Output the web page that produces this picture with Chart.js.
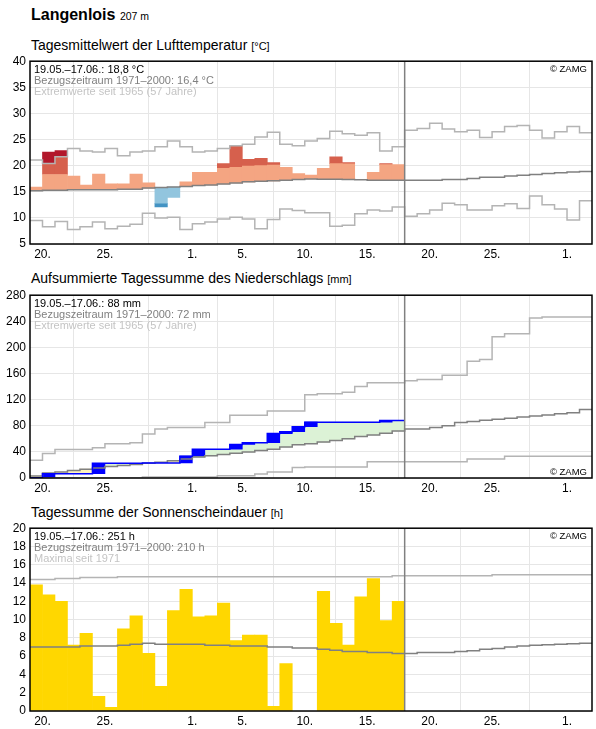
<!DOCTYPE html>
<html>
<head>
<meta charset="utf-8">
<script src="https://cdn.jsdelivr.net/npm/chart.js@4/dist/chart.umd.min.js"></script>
<style>
  body { margin: 0; background: #fff; font-family: "Liberation Sans", Arial, sans-serif; }
  #page { position: relative; width: 596px; height: 729px; overflow: hidden; }
  .hdr { position: absolute; left: 31px; top: 7px; font-size: 16px; line-height: 16px; font-weight: bold; }
  .hdr small { font-size: 10.5px; font-weight: normal; }
  .ttl { position: absolute; left: 31px; font-size: 14px; line-height: 14px; white-space: nowrap; }
  .ttl small { font-size: 11px; }
  canvas { position: absolute; left: 0; }
</style>
</head>
<body>
<div id="page">
  <div class="hdr">Langenlois <small>207 m</small></div>
  <div class="ttl" style="top:38px">Tagesmittelwert der Lufttemperatur <small>[°C]</small></div>
  <canvas id="temp" width="596" height="212" style="top:50px"></canvas>
  <div class="ttl" style="top:271px">Aufsummierte Tagessumme des Niederschlags <small>[mm]</small></div>
  <canvas id="rain" width="596" height="212" style="top:284px"></canvas>
  <div class="ttl" style="top:505px">Tagessumme der Sonnenscheindauer <small>[h]</small></div>
  <canvas id="sun" width="596" height="212" style="top:517px"></canvas>
</div>
<script>
const FONT = '"Liberation Sans", Arial, sans-serif';

// x axis: days since 19.05. (0) up to 03.07. (45)
const days = 45;
const splitDay = 30; // start of 18.06.
const tickDays = [1, 6, 13, 17, 22, 27, 32, 37, 43];
const tickLabels = ['20.', '25.', '1.', '5.', '10.', '15.', '20.', '25.', '1.'];

// Lufttemperatur, Tagesmittel 19.05.-17.06.
const tempMean = [15.9, 22.6, 22.9, 18.0, 16.3, 18.4, 16.5, 16.5, 18.4, 16.7,
                  12.1, 13.9, 16.9, 18.7, 18.7, 20.4, 23.7, 21.2, 21.4, 20.6,
                  19.7, 18.5, 18.2, 19.5, 21.7, 20.6, 17.3, 18.7, 20.4, 20.2];
const tempNormal = [15.2, 15.3, 15.3, 15.4, 15.4, 15.4, 15.4, 15.5, 15.5, 15.7,
                    15.8, 15.9, 16.0, 16.2, 16.3, 16.5, 16.7, 16.9, 17.0, 17.1,
                    17.2, 17.35, 17.45, 17.4, 17.4, 17.35, 17.3, 17.2, 17.2, 17.2,
                    17.2, 17.2, 17.2, 17.35, 17.35, 17.55, 17.8, 17.8, 18.0, 18.15,
                    18.3, 18.5, 18.65, 18.8, 18.9];
const tempMax = [21.1, 20.4, 21.7, 23.3, 22.8, 22.6, 23.3, 21.9, 22.6, 22.8,
                 23.6, 24.7, 23.6, 22.6, 22.8, 23.3, 23.8, 24.1, 25.5, 26.4,
                 24.1, 23.8, 24.7, 25.2, 26.6, 26.1, 25.8, 26.3, 22.8, 23.6,
                 26.8, 27.1, 28.1, 27.0, 26.5, 26.8, 25.4, 26.5, 27.5, 27.7,
                 26.8, 25.3, 26.5, 27.5, 26.3];
const tempMin = [9.5, 8.3, 9.3, 7.8, 8.3, 9.2, 7.9, 8.4, 8.8, 10.9,
                 10.0, 10.1, 7.8, 8.9, 9.2, 9.8, 10.1, 9.8, 7.9, 9.7,
                 11.7, 11.4, 11.0, 11.0, 8.4, 8.6, 10.8, 11.5, 11.3, 12.1,
                 10.3, 10.8, 11.5, 12.8, 12.5, 11.5, 11.5, 12.3, 12.7, 11.8,
                 14.2, 12.5, 11.7, 9.6, 13.3];
const tempTexts = ['19.05.–17.06.: 18,8 °C', 'Bezugszeitraum 1971–2000: 16,4 °C', 'Extremwerte seit 1965 (57 Jahre)'];

// Niederschlag, aufsummiert
const precipSum = [0.5, 6.5, 6.5, 6.5, 6.5, 22.5, 22.5, 22.5, 22.5, 23,
                   23, 23, 33.5, 44, 44, 44, 51.5, 54, 54, 68,
                   71, 78.5, 85.5, 85.5, 85.5, 85.5, 85.5, 85.5, 88, 88];
const precipNormal = [3, 7.5, 9, 11.5, 13.5, 15.5, 17.5, 19, 20.5, 22.5,
                      24, 26.5, 29, 32, 34, 36, 38, 40, 42, 44,
                      47.5, 51, 52.5, 55, 57.5, 60, 63.5, 66, 68.5, 72,
                      75, 75, 77.5, 80, 85, 86.5, 88.5, 90, 91.5, 93.5,
                      95, 96.5, 98.5, 100, 105];
const precipMax = [27, 37.5, 43.5, 43.5, 43.5, 46.5, 52.5, 52.5, 54, 67.5,
                   75, 77.5, 77.5, 77.5, 85, 85, 96, 96, 96, 102.5,
                   102.5, 102.5, 127.5, 129, 129, 131.5, 140, 146, 146, 146,
                   149, 151, 151, 157.5, 157.5, 179, 181.5, 216.5, 221, 221,
                   245, 246.5, 246.5, 246.5, 246.5];
const precipMin = [0, 0, 0, 0, 0, 0, 0, 0, 0, 1.5,
                   1.5, 1.5, 1.5, 1.5, 1.5, 3.5, 3.5, 3.5, 6, 9,
                   9, 16, 17, 17, 17, 17, 17, 25, 25, 25,
                   25, 25, 25, 25, 25, 29, 29, 29, 33.5, 33.5,
                   33.5, 33.5, 33.5, 33.5, 33.5];
const rainTexts = ['19.05.–17.06.: 88 mm', 'Bezugszeitraum 1971–2000: 72 mm', 'Extremwerte seit 1965 (57 Jahre)'];

// Sonnenscheindauer
const sunHours = [13.8, 12.7, 12.0, 7.2, 8.5, 1.6, 0.4, 9.0, 10.4, 6.3,
                  2.7, 11.0, 13.3, 10.3, 10.4, 11.8, 7.7, 8.3, 8.3, 0.5,
                  5.2, 0, 0, 13.1, 9.6, 7.2, 12.5, 14.5, 9.9, 12.0];
const sunNormal = [7.0, 7.0, 7.0, 7.0, 7.1, 7.1, 7.1, 7.2, 7.3, 7.4,
                   7.3, 7.3, 7.3, 7.3, 7.2, 7.2, 7.1, 7.1, 7.1, 7.0,
                   7.0, 6.9, 6.9, 6.75, 6.65, 6.5, 6.5, 6.4, 6.4, 6.3,
                   6.3, 6.4, 6.4, 6.4, 6.5, 6.6, 6.75, 6.85, 7.0, 7.1,
                   7.2, 7.25, 7.3, 7.35, 7.4];
const sunMax = [14.4, 14.4, 14.5, 14.5, 14.6, 14.6, 14.6, 14.7, 14.7, 14.7,
                14.7, 14.7, 14.7, 14.7, 14.7, 14.7, 14.7, 14.7, 14.7, 14.7,
                14.7, 14.7, 14.7, 14.7, 14.7, 14.7, 14.7, 14.7, 14.7, 14.8,
                14.8, 14.8, 14.8, 14.8, 14.8, 14.8, 14.8, 14.9, 14.9, 14.9,
                14.9, 14.9, 14.9, 14.9, 14.9];
const sunTexts = ['19.05.–17.06.: 251 h', 'Bezugszeitraum 1971–2000: 210 h', 'Maxima seit 1971'];

const textColors = ['#000', '#808080', '#c4c4c4'];

function stepLine(values, color, order) {
    const pts = values.map((v, i) => ({ x: i, y: v }));
    pts.push({ x: values.length, y: values[values.length - 1] });
    return {
        type: 'line', data: pts, borderColor: color, borderWidth: 1.5,
        pointRadius: 0, stepped: true, fill: false, order: order
    };
}

function floatBars(ranges, color, order) {
    const data = [];
    ranges.forEach((r, i) => {
        if (r && r[1] - r[0] > 0.01) data.push({ x: i + 0.5, y: r });
    });
    return {
        type: 'bar', data: data, backgroundColor: color, borderWidth: 0,
        grouped: false, barPercentage: 1, categoryPercentage: 1, order: order
    };
}

function panelPlugin(texts, zamgAtBottom) {
    return {
        id: 'panel',
        afterDatasetsDraw(chart) {
            const { ctx, chartArea: a, scales: { x } } = chart;
            ctx.save();
            const xs = x.getPixelForValue(splitDay);
            ctx.strokeStyle = '#808080';
            ctx.lineWidth = 1.5;
            ctx.beginPath();
            ctx.moveTo(xs, a.top);
            ctx.lineTo(xs, a.bottom);
            ctx.stroke();

            ctx.font = '11px ' + FONT;
            ctx.textAlign = 'left';
            ctx.textBaseline = 'alphabetic';
            texts.forEach((t, i) => {
                ctx.fillStyle = textColors[i];
                ctx.fillText(t, a.left + 4, a.top + 11.5 + i * 11);
            });
            ctx.font = '9.5px ' + FONT;
            ctx.textAlign = 'right';
            ctx.fillStyle = '#000';
            ctx.fillText('© ZAMG', a.right - 5, zamgAtBottom ? a.bottom - 3.5 : a.top + 11);

            ctx.strokeStyle = '#000';
            ctx.lineWidth = 1.5;
            ctx.strokeRect(a.left, a.top, a.right - a.left, a.bottom - a.top);
            ctx.restore();
        }
    };
}

function makeChart(id, yMin, yMax, yStep, datasets, texts, zamgAtBottom) {
    return new Chart(document.getElementById(id), {
        type: 'bar',
        data: { datasets: datasets },
        options: {
            responsive: false,
            animation: false,
            events: [],
            layout: { padding: { top: 8, right: 4, bottom: 2, left: 0 } },
            plugins: { legend: { display: false }, tooltip: { enabled: false } },
            scales: {
                x: {
                    type: 'linear', min: 0, max: days, offset: false,
                    afterBuildTicks: s => { s.ticks = tickDays.map(v => ({ value: v })); },
                    afterFit: s => { s.height = 16; },
                    grid: { color: '#e6e6e6', drawTicks: false },
                    border: { display: false },
                    ticks: {
                        color: '#000', font: { size: 12, family: FONT }, padding: 3,
                        maxRotation: 0, autoSkip: false,
                        callback: (v, i) => tickLabels[i]
                    }
                },
                y: {
                    min: yMin, max: yMax,
                    afterFit: s => { s.width = 30; },
                    grid: { color: '#e6e6e6', drawTicks: false },
                    border: { display: false },
                    ticks: { stepSize: yStep, color: '#000', font: { size: 12, family: FONT }, padding: 4 }
                }
            }
        },
        plugins: [panelPlugin(texts, zamgAtBottom)]
    });
}

// temperature deviation layers
const warmLight = tempMean.map((t, i) => t > tempNormal[i] ? [tempNormal[i], Math.min(t, tempNormal[i] + 3)] : null);
const warmMid = tempMean.map((t, i) => t > tempNormal[i] + 3 ? [tempNormal[i] + 3, Math.min(t, tempMax[i])] : null);
const warmRecord = tempMean.map((t, i) => t > tempMax[i] ? [tempMax[i], t] : null);
const coldLight = tempMean.map((t, i) => t < tempNormal[i] ? [Math.max(t, tempNormal[i] - 3), tempNormal[i]] : null);
const coldMid = tempMean.map((t, i) => t < tempNormal[i] - 3 ? [t, tempNormal[i] - 3] : null);

makeChart('temp', 5, 40, 5, [
    floatBars(warmLight, '#f4a582', 5),
    floatBars(warmMid, '#d6604d', 5),
    floatBars(warmRecord, '#b2182b', 5),
    floatBars(coldLight, '#92c5de', 5),
    floatBars(coldMid, '#4393c3', 5),
    stepLine(tempMax, '#b4b4b4', 2),
    stepLine(tempMin, '#b4b4b4', 2),
    stepLine(tempNormal, '#808080', 1)
], tempTexts, false);

// precipitation layers
const precipDay = precipSum.map((v, i) => [i ? precipSum[i - 1] : 0, v]);
const wetter = precipSum.map((v, i) => v > precipNormal[i] ? [precipNormal[i], v] : null);
const drier = precipSum.map((v, i) => v < precipNormal[i] ? [v, precipNormal[i]] : null);

makeChart('rain', 0, 280, 40, [
    floatBars(wetter, '#dcf2d6', 6),
    floatBars(drier, '#fff4bf', 6),
    floatBars(precipDay, '#0000ff', 4),
    stepLine(precipMax, '#b4b4b4', 3),
    stepLine(precipMin, '#b4b4b4', 3),
    stepLine(precipNormal, '#808080', 2),
    stepLine(precipSum, '#0000ff', 1)
], rainTexts, true);

makeChart('sun', 0, 20, 2, [
    floatBars(sunHours.map(v => [0, v]), '#ffd700', 5),
    stepLine(sunMax, '#b4b4b4', 2),
    stepLine(sunNormal, '#808080', 1)
], sunTexts, false);
</script>
</body>
</html>
